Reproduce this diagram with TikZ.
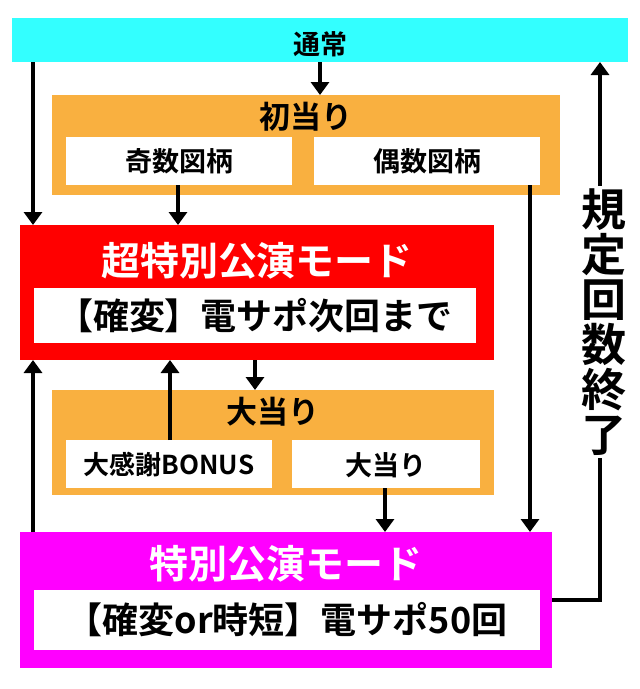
\documentclass[tikz,border=0pt]{standalone}
\usepackage{fontspec}
\setmainfont{Noto Sans CJK JP}[BoldFont={Noto Sans CJK JP Bold}]
\usetikzlibrary{arrows.meta}
\definecolor{cyanbar}{HTML}{33FFFF}
\definecolor{orng}{HTML}{F9B040}
\definecolor{redb}{HTML}{FF0000}
\definecolor{magb}{HTML}{FF00FF}
\tikzset{
  arr/.style={line width=4pt,-{Triangle[length=13pt,width=18pt]}},
  t/.style={font=\bfseries\fontsize{#1}{#1}\selectfont,inner sep=0pt}
}
\begin{document}
\begin{tikzpicture}[x=1pt,y=-1pt]
\useasboundingbox (0,0) rectangle (640,689);
\fill[cyanbar] (12,18) rectangle (628,62);
\node[t=27] (tsujo) at (320,44) {通常};
\fill[orng] (52,95) rectangle (560,195);
\node[t=31] (hatsu) at (306,117) {初当り};
\fill[white] (66,137) rectangle (292,185);
\fill[white] (314,137) rectangle (540,185);
\node[t=27] (kisu) at (179,161) {奇数図柄};
\node[t=27] (gusu) at (427,161) {偶数図柄};
\fill[redb] (20,225) rectangle (494,360);
\node[t=39,text=white] (super) at (257,261) {超特別公演モード};
\fill[white] (34,288) rectangle (476,343);
\node[t=36] (superd) at (255,316) {【確変】電サポ次回まで};
\fill[orng] (52,390) rectangle (494,495);
\node[t=31] (oa) at (273,412) {大当り};
\fill[white] (66,440) rectangle (272,488);
\fill[white] (292,440) rectangle (480,488);
\node[t=26] (bonus) at (169,465) {大感謝BONUS};
\node[t=27] (oa2) at (386,465) {大当り};
\fill[magb] (20,532) rectangle (552,668);
\node[t=39,text=white] (sp) at (286,564) {特別公演モード};
\fill[white] (34,590) rectangle (540,650);
\node[t=36] (spd) at (287,620) {【確変or時短】電サポ50回};
\draw[arr] (33,62) -- (33,225);
\draw[arr] (320,62) -- (320,95);
\draw[arr] (178,185) -- (178,225);
\draw[arr] (530,185) -- (530,532);
\draw[arr] (255,360) -- (255,390);
\draw[arr] (170,440) -- (170,360);
\draw[arr] (385,488) -- (385,532);
\draw[arr] (33,532) -- (33,360);
\draw[line width=4pt] (552,600) -- (600,600);
\draw[arr] (600,602) -- (600,62);
\node[t=45,fill=white,align=center,inner ysep=3pt] (kitei) at (604,322)
  {規\\[0pt]定\\[0pt]回\\[0pt]数\\[0pt]終\\[0pt]了};
\end{tikzpicture}
\end{document}
